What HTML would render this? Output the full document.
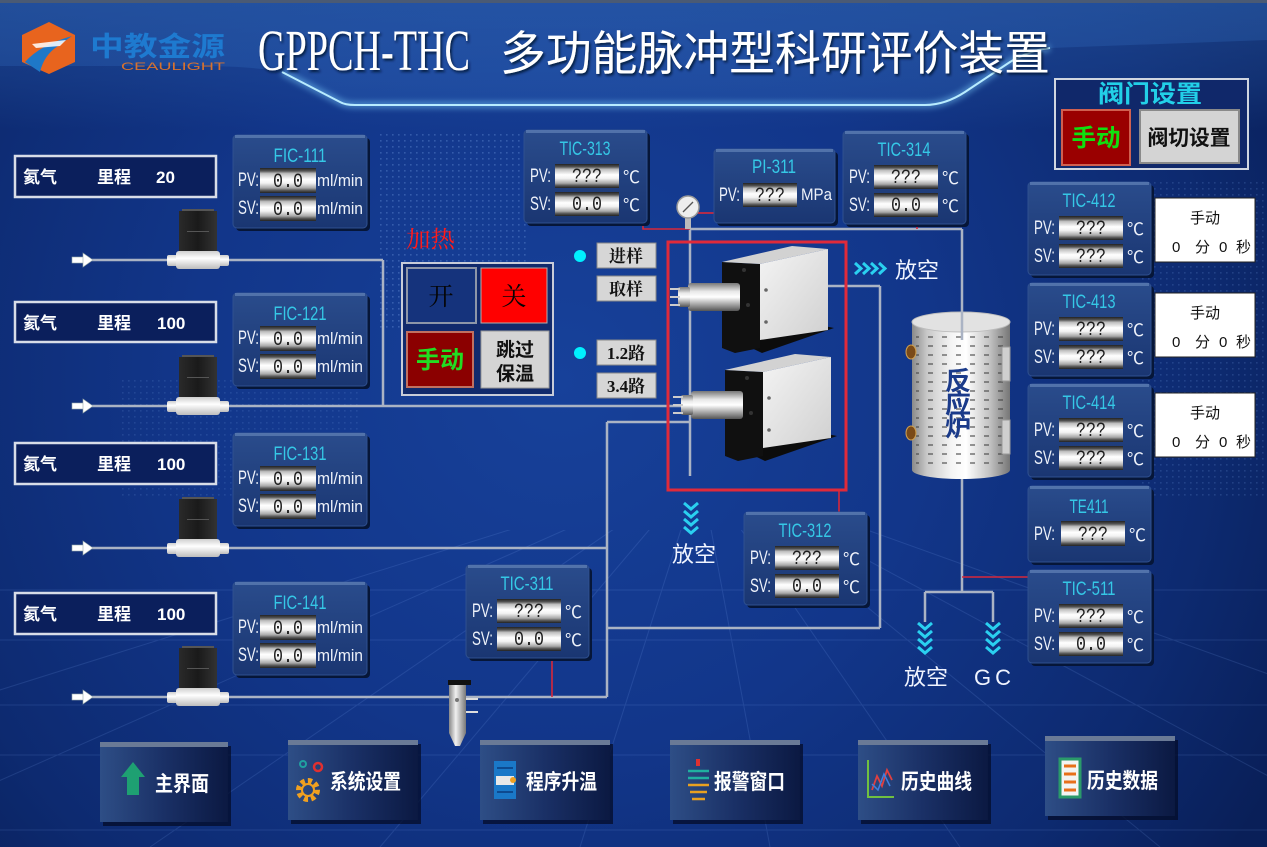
<!DOCTYPE html>
<html><head><meta charset="utf-8">
<style>
html,body{margin:0;padding:0;background:#0d2a70;overflow:hidden;}
svg{display:block;font-family:"Liberation Sans","Noto Sans CJK SC",sans-serif;}
.t{fill:#35c8e6;font-size:19px;text-anchor:middle;}
.l{fill:#eef2fa;font-size:19px;}
.v{fill:#1e1e1e;font-family:"Liberation Mono","Noto Sans CJK SC",monospace;font-size:20px;text-anchor:middle;}
.u{fill:#eef2fa;font-size:17px;}
.c{fill:#eef2fa;font-size:17px;}
.p{fill:none;stroke:#aab3c4;stroke-width:2.5;}
.r{fill:none;stroke:#d8283a;stroke-width:1.6;}
.lb{fill:#ffffff;font-size:17px;font-weight:bold;}
.sb{fill:#111;font-family:"Liberation Serif","Noto Serif CJK SC",serif;font-size:17px;font-weight:bold;text-anchor:middle;}
.sf{font-family:"Liberation Serif","Noto Serif CJK SC",serif;}
.bt{fill:#ffffff;font-size:21px;font-weight:bold;}
.ib{fill:#111;font-size:15px;}
.ch{fill:none;stroke:#2ad0f0;stroke-width:3;}
</style></head><body>
<svg width="1267" height="847" viewBox="0 0 1267 847" xmlns="http://www.w3.org/2000/svg">
<defs>
<radialGradient id="bgr" cx="560" cy="380" r="820" gradientUnits="userSpaceOnUse">
<stop offset="0" stop-color="#17419a"/>
<stop offset="0.45" stop-color="#12368a"/>
<stop offset="0.8" stop-color="#0d2a70"/>
<stop offset="1" stop-color="#091f58"/>
</radialGradient>
<linearGradient id="hdr" x1="0" y1="0" x2="0" y2="1">
<stop offset="0" stop-color="#3068b8" stop-opacity="0.45"/>
<stop offset="1" stop-color="#3a78d0" stop-opacity="0.3"/>
</linearGradient>
<linearGradient id="hband" x1="0" y1="0" x2="0" y2="1">
<stop offset="0" stop-color="#2a5cab" stop-opacity="0.5"/>
<stop offset="0.6" stop-color="#2a5cab" stop-opacity="0.25"/>
<stop offset="1" stop-color="#2a5cab" stop-opacity="0"/>
</linearGradient>
<linearGradient id="pg" x1="0" y1="0" x2="0" y2="1">
<stop offset="0" stop-color="#2a4c8c"/>
<stop offset="1" stop-color="#1a3672"/>
</linearGradient>
<linearGradient id="vg" x1="0" y1="0" x2="0" y2="1">
<stop offset="0" stop-color="#222"/>
<stop offset="0.12" stop-color="#555"/>
<stop offset="0.22" stop-color="#bdbdbd"/>
<stop offset="0.45" stop-color="#ffffff"/>
<stop offset="0.6" stop-color="#f2f2f2"/>
<stop offset="0.8" stop-color="#a8a8a8"/>
<stop offset="0.9" stop-color="#555"/>
<stop offset="1" stop-color="#222"/>
</linearGradient>
<linearGradient id="btn" x1="0" y1="0" x2="1" y2="0">
<stop offset="0" stop-color="#2e4e86"/>
<stop offset="0.5" stop-color="#1a3066"/>
<stop offset="1" stop-color="#0b1942"/>
</linearGradient>
<linearGradient id="cyl" x1="0" y1="0" x2="1" y2="0">
<stop offset="0" stop-color="#8a8a8a"/>
<stop offset="0.15" stop-color="#c8c8c8"/>
<stop offset="0.4" stop-color="#f4f4f4"/>
<stop offset="0.55" stop-color="#ffffff"/>
<stop offset="0.8" stop-color="#c0c0c0"/>
<stop offset="1" stop-color="#767676"/>
</linearGradient>
<linearGradient id="met" x1="0" y1="0" x2="0" y2="1">
<stop offset="0" stop-color="#777"/>
<stop offset="0.3" stop-color="#e8e8e8"/>
<stop offset="0.5" stop-color="#ffffff"/>
<stop offset="0.75" stop-color="#aaa"/>
<stop offset="1" stop-color="#555"/>
</linearGradient>
<linearGradient id="wf" x1="0" y1="0" x2="0" y2="1">
<stop offset="0" stop-color="#cfcfcf"/>
<stop offset="0.4" stop-color="#ffffff"/>
<stop offset="1" stop-color="#bdbdbd"/>
</linearGradient>
<linearGradient id="blk" x1="0" y1="0" x2="1" y2="0">
<stop offset="0" stop-color="#2a2a2a"/>
<stop offset="0.5" stop-color="#1a1a1a"/>
<stop offset="1" stop-color="#333"/>
</linearGradient>
<linearGradient id="face" x1="0" y1="0" x2="1" y2="1">
<stop offset="0" stop-color="#f4f4f4"/>
<stop offset="1" stop-color="#d0d0d0"/>
</linearGradient>
<linearGradient id="vmet" x1="0" y1="0" x2="1" y2="0">
<stop offset="0" stop-color="#888"/>
<stop offset="0.4" stop-color="#f0f0f0"/>
<stop offset="1" stop-color="#777"/>
</linearGradient>
<pattern id="slots" width="14" height="9" patternUnits="userSpaceOnUse">
<rect x="4" y="3" width="5" height="2" fill="#444" opacity=".55"/>
</pattern>
<pattern id="dots" width="6" height="6" patternUnits="userSpaceOnUse">
<rect x="2" y="2" width="1.6" height="1.6" fill="#6f9ae0" opacity=".35"/>
</pattern>
<clipPath id="floor"><rect x="0" y="530" width="1267" height="317"/></clipPath>
<filter id="glow" x="-10%" y="-50%" width="120%" height="200%">
<feGaussianBlur stdDeviation="3"/>
</filter>
<filter id="tsh" x="-5%" y="-20%" width="110%" height="140%">
<feDropShadow dx="1.5" dy="2" stdDeviation="1.2" flood-color="#061436" flood-opacity="0.9"/>
</filter>
<g id="fm">
<rect x="3" y="-2" width="32" height="3" fill="#555"/>
<rect x="0" y="0" width="38" height="41" fill="url(#blk)"/>
<rect x="8" y="20" width="22" height="1" fill="#555"/>
<rect x="-12" y="44" width="12" height="11" rx="2" fill="url(#wf)"/>
<rect x="38" y="44" width="12" height="11" rx="2" fill="url(#wf)"/>
<rect x="-3" y="40" width="44" height="18" rx="3" fill="url(#wf)"/>
</g>
<g id="arr">
<rect x="0" y="-3" width="12" height="6" fill="#fff" stroke="#9aa" stroke-width=".6"/>
<polygon points="11,-7 21,0 11,7" fill="#fff" stroke="#9aa" stroke-width=".6"/>
</g>
<g id="valve">
<polygon points="735,340 805,322 834,328 762,353" fill="#0c0c0c"/>
<polygon points="722,262 760,264 760,348 735,353 722,348" fill="#101010"/>
<polygon points="722,262 792,246 828,249 760,264" fill="#d2d2d2"/>
<polygon points="760,264 828,249 828,330 760,340" fill="url(#face)"/>
<circle cx="766" cy="290" r="1.8" fill="#666"/>
<circle cx="766" cy="322" r="1.8" fill="#666"/>
<circle cx="744" cy="270" r="2" fill="#333"/>
<circle cx="748" cy="305" r="2" fill="#333"/>
<rect x="688" y="283" width="52" height="28" rx="3" fill="url(#met)"/>
<rect x="678" y="287" width="12" height="20" rx="2" fill="url(#met)"/>
<line x1="670" y1="289" x2="680" y2="289" stroke="#ccc" stroke-width="2"/>
<line x1="670" y1="297" x2="680" y2="297" stroke="#ccc" stroke-width="2"/>
<line x1="670" y1="305" x2="680" y2="305" stroke="#ccc" stroke-width="2"/>
</g>
</defs>

<!-- background -->
<rect width="1267" height="847" fill="url(#bgr)"/>
<rect x="0" y="0" width="1267" height="130" fill="url(#hband)"/>
<path d="M0 0 H1267 V40 L1050 48 Q1030 50 1010 62 L965 92 Q945 105 925 105 L355 105 Q345 105 340 102 L282 72 Q250 66 200 66 L0 66 Z" fill="url(#hdr)" opacity=".7"/>
<rect x="380" y="130" width="150" height="200" fill="url(#dots)"/>
<rect x="1140" y="180" width="127" height="320" fill="url(#dots)" opacity=".6"/>
<rect x="120" y="380" width="240" height="120" fill="url(#dots)" opacity=".5"/>
<rect x="0" y="0" width="1267" height="3" fill="#4a5a74"/>
<!-- header glow line -->
<path d="M282 72 L340 102 Q345 105 355 105 L925 105 Q945 105 965 92 L1010 62 Q1030 50 1050 48" fill="none" stroke="#7fd0ff" stroke-width="7" opacity=".45" filter="url(#glow)"/>
<path d="M282 72 L340 102 Q345 105 355 105 L925 105 Q945 105 965 92 L1010 62 Q1030 50 1050 48" fill="none" stroke="#b8ecff" stroke-width="2"/>

<!-- floor grid -->
<g stroke="#8ab4ff" stroke-width="1" opacity=".14" clip-path="url(#floor)">
<line x1="700" y1="470" x2="-500" y2="847"/>
<line x1="700" y1="470" x2="-150" y2="847"/>
<line x1="700" y1="470" x2="150" y2="847"/>
<line x1="700" y1="470" x2="380" y2="847"/>
<line x1="700" y1="470" x2="580" y2="847"/>
<line x1="700" y1="470" x2="770" y2="847"/>
<line x1="700" y1="470" x2="960" y2="847"/>
<line x1="700" y1="470" x2="1160" y2="847"/>
<line x1="700" y1="470" x2="1400" y2="847"/>
<line x1="700" y1="470" x2="1750" y2="847"/>
<line x1="0" y1="590" x2="1267" y2="590"/>
<line x1="0" y1="640" x2="1267" y2="640"/>
<line x1="0" y1="705" x2="1267" y2="705"/>
<line x1="0" y1="755" x2="1267" y2="755"/>
<line x1="0" y1="830" x2="1267" y2="830"/>
</g>

<!-- logo -->
<polygon points="49,22 75,35 75,62 49,74 22,62 22,35" fill="#e8641e"/>
<path d="M25 62 Q40 45 72 36 L58 46 Q44 55 40 72 Z" fill="#1e78c8"/>
<path d="M32 44 L66 40 L60 46 L36 48 Z" fill="#ffffff" opacity=".85"/>
<text x="90" y="56" font-size="27" font-weight="bold" fill="#1e7ad0" textLength="135" lengthAdjust="spacingAndGlyphs">中教金源</text>
<text x="121" y="70" font-size="11" fill="#d8722e" textLength="104" lengthAdjust="spacingAndGlyphs">CEAULIGHT</text>

<!-- title -->
<g filter="url(#tsh)">
<text x="258" y="70" class="sf" font-size="58" fill="#ffffff" textLength="212" lengthAdjust="spacingAndGlyphs">GPPCH-THC</text>
<text x="500" y="70" font-size="47" fill="#ffffff" textLength="550" lengthAdjust="spacingAndGlyphs">多功能脉冲型科研评价装置</text>
</g>

<!-- pipes -->
<g class="p">
<line x1="92" y1="260" x2="167" y2="260"/>
<line x1="228" y1="260" x2="383" y2="260"/>
<line x1="383" y1="260" x2="383" y2="406"/>
<line x1="92" y1="406" x2="167" y2="406"/>
<line x1="228" y1="406" x2="690" y2="406"/>
<line x1="92" y1="548" x2="167" y2="548"/>
<line x1="228" y1="548" x2="607" y2="548"/>
<line x1="92" y1="697" x2="167" y2="697"/>
<line x1="228" y1="697" x2="607" y2="697"/>
<line x1="607" y1="422" x2="607" y2="697"/>
<line x1="607" y1="422" x2="690" y2="422"/>
<line x1="690" y1="229" x2="690" y2="476"/>
<line x1="690" y1="229" x2="962" y2="229"/>
<line x1="828" y1="286" x2="880" y2="286"/>
<line x1="880" y1="286" x2="880" y2="628"/>
<line x1="607" y1="628" x2="880" y2="628"/>
<line x1="962" y1="470" x2="962" y2="592"/>
<line x1="925" y1="592" x2="993" y2="592"/>
<line x1="925" y1="592" x2="925" y2="622"/>
<line x1="993" y1="592" x2="993" y2="622"/>
</g>

<!-- red signal lines -->
<g class="r">
<polyline points="643,223 643,229 690,229"/>
<line x1="698" y1="213" x2="714" y2="213"/>
<line x1="917" y1="224" x2="917" y2="229"/>
<line x1="839" y1="490" x2="839" y2="512"/>
<line x1="552" y1="660" x2="552" y2="697"/>
<line x1="962" y1="577" x2="1028" y2="577"/>
</g>

<!-- left label boxes -->
<g>
<rect x="15" y="156" width="201" height="41" fill="#0b1f5c" stroke="#d8dde8" stroke-width="2.5"/>
<text x="23" y="183" class="lb">氦气</text><text x="97" y="183" class="lb">里程</text><text x="156" y="183" class="lb">20</text>
<rect x="15" y="302" width="201" height="40" fill="#0b1f5c" stroke="#d8dde8" stroke-width="2.5"/>
<text x="23" y="329" class="lb">氦气</text><text x="97" y="329" class="lb">里程</text><text x="157" y="329" class="lb">100</text>
<rect x="15" y="443" width="201" height="41" fill="#0b1f5c" stroke="#d8dde8" stroke-width="2.5"/>
<text x="23" y="470" class="lb">氦气</text><text x="97" y="470" class="lb">里程</text><text x="157" y="470" class="lb">100</text>
<rect x="15" y="593" width="201" height="41" fill="#0b1f5c" stroke="#d8dde8" stroke-width="2.5"/>
<text x="23" y="620" class="lb">氦气</text><text x="97" y="620" class="lb">里程</text><text x="157" y="620" class="lb">100</text>
</g>

<!-- flow meters & arrows -->
<use href="#fm" x="179" y="211"/>
<use href="#fm" x="179" y="357"/>
<use href="#fm" x="179" y="499"/>
<use href="#fm" x="179" y="648"/>
<use href="#arr" x="72" y="260"/>
<use href="#arr" x="72" y="406"/>
<use href="#arr" x="72" y="548"/>
<use href="#arr" x="72" y="697"/>

<!-- FIC panels -->
<g>
<rect x="236" y="138" width="134" height="93" rx="4" fill="#061638"/>
<rect x="233" y="135" width="134" height="93" rx="4" fill="url(#pg)" stroke="#2f5090"/>
<rect x="235" y="135" width="130" height="3" fill="#6d8cc0" opacity=".6"/>
<text x="300" y="162" class="t" textLength="53" lengthAdjust="spacingAndGlyphs">FIC-111</text>
<text x="238" y="186" class="l" textLength="21" lengthAdjust="spacingAndGlyphs">PV:</text>
<rect x="260" y="168" width="56" height="25" fill="url(#vg)"/>
<text x="288" y="187" class="v" textLength="30" lengthAdjust="spacingAndGlyphs">0.0</text>
<text x="317" y="186" class="u" textLength="46" lengthAdjust="spacingAndGlyphs">ml/min</text>
<text x="238" y="214" class="l" textLength="21" lengthAdjust="spacingAndGlyphs">SV:</text>
<rect x="260" y="196" width="56" height="25" fill="url(#vg)"/>
<text x="288" y="215" class="v" textLength="30" lengthAdjust="spacingAndGlyphs">0.0</text>
<text x="317" y="214" class="u" textLength="46" lengthAdjust="spacingAndGlyphs">ml/min</text>
</g>
<g>
<rect x="236" y="296" width="134" height="93" rx="4" fill="#061638"/>
<rect x="233" y="293" width="134" height="93" rx="4" fill="url(#pg)" stroke="#2f5090"/>
<rect x="235" y="293" width="130" height="3" fill="#6d8cc0" opacity=".6"/>
<text x="300" y="320" class="t" textLength="53" lengthAdjust="spacingAndGlyphs">FIC-121</text>
<text x="238" y="344" class="l" textLength="21" lengthAdjust="spacingAndGlyphs">PV:</text>
<rect x="260" y="326" width="56" height="25" fill="url(#vg)"/>
<text x="288" y="345" class="v" textLength="30" lengthAdjust="spacingAndGlyphs">0.0</text>
<text x="317" y="344" class="u" textLength="46" lengthAdjust="spacingAndGlyphs">ml/min</text>
<text x="238" y="372" class="l" textLength="21" lengthAdjust="spacingAndGlyphs">SV:</text>
<rect x="260" y="354" width="56" height="25" fill="url(#vg)"/>
<text x="288" y="373" class="v" textLength="30" lengthAdjust="spacingAndGlyphs">0.0</text>
<text x="317" y="372" class="u" textLength="46" lengthAdjust="spacingAndGlyphs">ml/min</text>
</g>
<g>
<rect x="236" y="436" width="134" height="93" rx="4" fill="#061638"/>
<rect x="233" y="433" width="134" height="93" rx="4" fill="url(#pg)" stroke="#2f5090"/>
<rect x="235" y="433" width="130" height="3" fill="#6d8cc0" opacity=".6"/>
<text x="300" y="460" class="t" textLength="53" lengthAdjust="spacingAndGlyphs">FIC-131</text>
<text x="238" y="484" class="l" textLength="21" lengthAdjust="spacingAndGlyphs">PV:</text>
<rect x="260" y="466" width="56" height="25" fill="url(#vg)"/>
<text x="288" y="485" class="v" textLength="30" lengthAdjust="spacingAndGlyphs">0.0</text>
<text x="317" y="484" class="u" textLength="46" lengthAdjust="spacingAndGlyphs">ml/min</text>
<text x="238" y="512" class="l" textLength="21" lengthAdjust="spacingAndGlyphs">SV:</text>
<rect x="260" y="494" width="56" height="25" fill="url(#vg)"/>
<text x="288" y="513" class="v" textLength="30" lengthAdjust="spacingAndGlyphs">0.0</text>
<text x="317" y="512" class="u" textLength="46" lengthAdjust="spacingAndGlyphs">ml/min</text>
</g>
<g>
<rect x="236" y="585" width="134" height="93" rx="4" fill="#061638"/>
<rect x="233" y="582" width="134" height="93" rx="4" fill="url(#pg)" stroke="#2f5090"/>
<rect x="235" y="582" width="130" height="3" fill="#6d8cc0" opacity=".6"/>
<text x="300" y="609" class="t" textLength="53" lengthAdjust="spacingAndGlyphs">FIC-141</text>
<text x="238" y="633" class="l" textLength="21" lengthAdjust="spacingAndGlyphs">PV:</text>
<rect x="260" y="615" width="56" height="25" fill="url(#vg)"/>
<text x="288" y="634" class="v" textLength="30" lengthAdjust="spacingAndGlyphs">0.0</text>
<text x="317" y="633" class="u" textLength="46" lengthAdjust="spacingAndGlyphs">ml/min</text>
<text x="238" y="661" class="l" textLength="21" lengthAdjust="spacingAndGlyphs">SV:</text>
<rect x="260" y="643" width="56" height="25" fill="url(#vg)"/>
<text x="288" y="662" class="v" textLength="30" lengthAdjust="spacingAndGlyphs">0.0</text>
<text x="317" y="661" class="u" textLength="46" lengthAdjust="spacingAndGlyphs">ml/min</text>
</g>

<!-- TIC-313 -->
<g>
<rect x="527" y="133" width="123" height="93" rx="4" fill="#061638"/>
<rect x="524" y="130" width="123" height="93" rx="4" fill="url(#pg)" stroke="#2f5090"/>
<rect x="526" y="130" width="119" height="3" fill="#6d8cc0" opacity=".6"/>
<text x="585" y="155" class="t" textLength="51" lengthAdjust="spacingAndGlyphs">TIC-313</text>
<text x="530" y="182" class="l" textLength="21" lengthAdjust="spacingAndGlyphs">PV:</text>
<rect x="555" y="164" width="64" height="24" fill="url(#vg)"/>
<text x="587" y="182" class="v" textLength="30" lengthAdjust="spacingAndGlyphs">???</text>
<text x="623" y="183" class="c">℃</text>
<text x="530" y="210" class="l" textLength="21" lengthAdjust="spacingAndGlyphs">SV:</text>
<rect x="555" y="192" width="64" height="24" fill="url(#vg)"/>
<text x="587" y="210" class="v" textLength="30" lengthAdjust="spacingAndGlyphs">0.0</text>
<text x="623" y="211" class="c">℃</text>
</g>
<!-- PI-311 -->
<g>
<rect x="717" y="152" width="121" height="74" rx="4" fill="#061638"/>
<rect x="714" y="149" width="121" height="74" rx="4" fill="url(#pg)" stroke="#2f5090"/>
<rect x="716" y="149" width="117" height="3" fill="#6d8cc0" opacity=".6"/>
<text x="774" y="173" class="t" textLength="44" lengthAdjust="spacingAndGlyphs">PI-311</text>
<text x="719" y="201" class="l" textLength="21" lengthAdjust="spacingAndGlyphs">PV:</text>
<rect x="743" y="183" width="54" height="24" fill="url(#vg)"/>
<text x="770" y="201" class="v" textLength="30" lengthAdjust="spacingAndGlyphs">???</text>
<text x="801" y="200" class="u" textLength="31" lengthAdjust="spacingAndGlyphs">MPa</text>
</g>
<!-- TIC-314 -->
<g>
<rect x="846" y="134" width="123" height="93" rx="4" fill="#061638"/>
<rect x="843" y="131" width="123" height="93" rx="4" fill="url(#pg)" stroke="#2f5090"/>
<rect x="845" y="131" width="119" height="3" fill="#6d8cc0" opacity=".6"/>
<text x="904" y="156" class="t" textLength="53" lengthAdjust="spacingAndGlyphs">TIC-314</text>
<text x="849" y="183" class="l" textLength="21" lengthAdjust="spacingAndGlyphs">PV:</text>
<rect x="874" y="165" width="64" height="24" fill="url(#vg)"/>
<text x="906" y="183" class="v" textLength="30" lengthAdjust="spacingAndGlyphs">???</text>
<text x="942" y="184" class="c">℃</text>
<text x="849" y="211" class="l" textLength="21" lengthAdjust="spacingAndGlyphs">SV:</text>
<rect x="874" y="193" width="64" height="24" fill="url(#vg)"/>
<text x="906" y="211" class="v" textLength="30" lengthAdjust="spacingAndGlyphs">0.0</text>
<text x="942" y="212" class="c">℃</text>
</g>

<!-- right TIC panels -->
<g>
<rect x="1031" y="185" width="123" height="93" rx="4" fill="#061638"/>
<rect x="1028" y="182" width="123" height="93" rx="4" fill="url(#pg)" stroke="#2f5090"/>
<rect x="1030" y="182" width="119" height="3" fill="#6d8cc0" opacity=".6"/>
<text x="1089" y="207" class="t" textLength="53" lengthAdjust="spacingAndGlyphs">TIC-412</text>
<text x="1034" y="234" class="l" textLength="21" lengthAdjust="spacingAndGlyphs">PV:</text>
<rect x="1059" y="216" width="64" height="24" fill="url(#vg)"/>
<text x="1091" y="234" class="v" textLength="30" lengthAdjust="spacingAndGlyphs">???</text>
<text x="1127" y="235" class="c">℃</text>
<text x="1034" y="262" class="l" textLength="21" lengthAdjust="spacingAndGlyphs">SV:</text>
<rect x="1059" y="244" width="64" height="24" fill="url(#vg)"/>
<text x="1091" y="262" class="v" textLength="30" lengthAdjust="spacingAndGlyphs">???</text>
<text x="1127" y="263" class="c">℃</text>
</g>
<g>
<rect x="1031" y="286" width="123" height="93" rx="4" fill="#061638"/>
<rect x="1028" y="283" width="123" height="93" rx="4" fill="url(#pg)" stroke="#2f5090"/>
<rect x="1030" y="283" width="119" height="3" fill="#6d8cc0" opacity=".6"/>
<text x="1089" y="308" class="t" textLength="53" lengthAdjust="spacingAndGlyphs">TIC-413</text>
<text x="1034" y="335" class="l" textLength="21" lengthAdjust="spacingAndGlyphs">PV:</text>
<rect x="1059" y="317" width="64" height="24" fill="url(#vg)"/>
<text x="1091" y="335" class="v" textLength="30" lengthAdjust="spacingAndGlyphs">???</text>
<text x="1127" y="336" class="c">℃</text>
<text x="1034" y="363" class="l" textLength="21" lengthAdjust="spacingAndGlyphs">SV:</text>
<rect x="1059" y="345" width="64" height="24" fill="url(#vg)"/>
<text x="1091" y="363" class="v" textLength="30" lengthAdjust="spacingAndGlyphs">???</text>
<text x="1127" y="364" class="c">℃</text>
</g>
<g>
<rect x="1031" y="387" width="123" height="93" rx="4" fill="#061638"/>
<rect x="1028" y="384" width="123" height="93" rx="4" fill="url(#pg)" stroke="#2f5090"/>
<rect x="1030" y="384" width="119" height="3" fill="#6d8cc0" opacity=".6"/>
<text x="1089" y="409" class="t" textLength="53" lengthAdjust="spacingAndGlyphs">TIC-414</text>
<text x="1034" y="436" class="l" textLength="21" lengthAdjust="spacingAndGlyphs">PV:</text>
<rect x="1059" y="418" width="64" height="24" fill="url(#vg)"/>
<text x="1091" y="436" class="v" textLength="30" lengthAdjust="spacingAndGlyphs">???</text>
<text x="1127" y="437" class="c">℃</text>
<text x="1034" y="464" class="l" textLength="21" lengthAdjust="spacingAndGlyphs">SV:</text>
<rect x="1059" y="446" width="64" height="24" fill="url(#vg)"/>
<text x="1091" y="464" class="v" textLength="30" lengthAdjust="spacingAndGlyphs">???</text>
<text x="1127" y="465" class="c">℃</text>
</g>
<g>
<rect x="1031" y="489" width="123" height="76" rx="4" fill="#061638"/>
<rect x="1028" y="486" width="123" height="76" rx="4" fill="url(#pg)" stroke="#2f5090"/>
<rect x="1030" y="486" width="119" height="3" fill="#6d8cc0" opacity=".6"/>
<text x="1089" y="513" class="t" textLength="39" lengthAdjust="spacingAndGlyphs">TE411</text>
<text x="1034" y="540" class="l" textLength="21" lengthAdjust="spacingAndGlyphs">PV:</text>
<rect x="1061" y="521" width="64" height="25" fill="url(#vg)"/>
<text x="1093" y="540" class="v" textLength="30" lengthAdjust="spacingAndGlyphs">???</text>
<text x="1129" y="541" class="c">℃</text>
</g>
<g>
<rect x="1031" y="573" width="123" height="93" rx="4" fill="#061638"/>
<rect x="1028" y="570" width="123" height="93" rx="4" fill="url(#pg)" stroke="#2f5090"/>
<rect x="1030" y="570" width="119" height="3" fill="#6d8cc0" opacity=".6"/>
<text x="1089" y="595" class="t" textLength="53" lengthAdjust="spacingAndGlyphs">TIC-511</text>
<text x="1034" y="622" class="l" textLength="21" lengthAdjust="spacingAndGlyphs">PV:</text>
<rect x="1059" y="604" width="64" height="24" fill="url(#vg)"/>
<text x="1091" y="622" class="v" textLength="30" lengthAdjust="spacingAndGlyphs">???</text>
<text x="1127" y="623" class="c">℃</text>
<text x="1034" y="650" class="l" textLength="21" lengthAdjust="spacingAndGlyphs">SV:</text>
<rect x="1059" y="632" width="64" height="24" fill="url(#vg)"/>
<text x="1091" y="650" class="v" textLength="30" lengthAdjust="spacingAndGlyphs">0.0</text>
<text x="1127" y="651" class="c">℃</text>
</g>
<!-- TIC-312 -->
<g>
<rect x="747" y="515" width="123" height="93" rx="4" fill="#061638"/>
<rect x="744" y="512" width="123" height="93" rx="4" fill="url(#pg)" stroke="#2f5090"/>
<rect x="746" y="512" width="119" height="3" fill="#6d8cc0" opacity=".6"/>
<text x="805" y="537" class="t" textLength="53" lengthAdjust="spacingAndGlyphs">TIC-312</text>
<text x="750" y="564" class="l" textLength="21" lengthAdjust="spacingAndGlyphs">PV:</text>
<rect x="775" y="546" width="64" height="24" fill="url(#vg)"/>
<text x="807" y="564" class="v" textLength="30" lengthAdjust="spacingAndGlyphs">???</text>
<text x="843" y="565" class="c">℃</text>
<text x="750" y="592" class="l" textLength="21" lengthAdjust="spacingAndGlyphs">SV:</text>
<rect x="775" y="574" width="64" height="24" fill="url(#vg)"/>
<text x="807" y="592" class="v" textLength="30" lengthAdjust="spacingAndGlyphs">0.0</text>
<text x="843" y="593" class="c">℃</text>
</g>
<!-- TIC-311 -->
<g>
<rect x="469" y="568" width="123" height="93" rx="4" fill="#061638"/>
<rect x="466" y="565" width="123" height="93" rx="4" fill="url(#pg)" stroke="#2f5090"/>
<rect x="468" y="565" width="119" height="3" fill="#6d8cc0" opacity=".6"/>
<text x="527" y="590" class="t" textLength="53" lengthAdjust="spacingAndGlyphs">TIC-311</text>
<text x="472" y="617" class="l" textLength="21" lengthAdjust="spacingAndGlyphs">PV:</text>
<rect x="497" y="599" width="64" height="24" fill="url(#vg)"/>
<text x="529" y="617" class="v" textLength="30" lengthAdjust="spacingAndGlyphs">???</text>
<text x="565" y="618" class="c">℃</text>
<text x="472" y="645" class="l" textLength="21" lengthAdjust="spacingAndGlyphs">SV:</text>
<rect x="497" y="627" width="64" height="24" fill="url(#vg)"/>
<text x="529" y="645" class="v" textLength="30" lengthAdjust="spacingAndGlyphs">0.0</text>
<text x="565" y="646" class="c">℃</text>
</g>

<!-- info boxes -->
<g>
<rect x="1155" y="198" width="100" height="64" fill="#fff" stroke="#222"/>
<text x="1205" y="223" class="ib" text-anchor="middle">手动</text>
<text x="1172" y="252" class="ib">0</text><text x="1195" y="252" class="ib">分</text><text x="1219" y="252" class="ib">0</text><text x="1236" y="252" class="ib">秒</text>
<rect x="1155" y="293" width="100" height="64" fill="#fff" stroke="#222"/>
<text x="1205" y="318" class="ib" text-anchor="middle">手动</text>
<text x="1172" y="347" class="ib">0</text><text x="1195" y="347" class="ib">分</text><text x="1219" y="347" class="ib">0</text><text x="1236" y="347" class="ib">秒</text>
<rect x="1155" y="393" width="100" height="64" fill="#fff" stroke="#222"/>
<text x="1205" y="418" class="ib" text-anchor="middle">手动</text>
<text x="1172" y="447" class="ib">0</text><text x="1195" y="447" class="ib">分</text><text x="1219" y="447" class="ib">0</text><text x="1236" y="447" class="ib">秒</text>
</g>

<!-- valve settings -->
<g>
<rect x="1055" y="79" width="193" height="90" fill="#10286a" stroke="#d0d6e0" stroke-width="2"/>
<text x="1150" y="102" font-size="24" font-weight="bold" fill="#22d0e8" text-anchor="middle" textLength="104" lengthAdjust="spacingAndGlyphs">阀门设置</text>
<rect x="1062" y="110" width="68" height="55" fill="#9a0000" stroke="#d06050" stroke-width="2"/>
<text x="1096" y="146" font-size="24" font-weight="bold" fill="#10e010" text-anchor="middle" textLength="49" lengthAdjust="spacingAndGlyphs">手动</text>
<rect x="1140" y="110" width="99" height="53" fill="#d4d4d4" stroke="#8a8a8a" stroke-width="2"/>
<text x="1189" y="145" font-size="21" font-weight="bold" fill="#111" text-anchor="middle" textLength="83" lengthAdjust="spacingAndGlyphs">阀切设置</text>
</g>

<!-- heating -->
<text x="406" y="247" class="sf" font-size="23" fill="#ff1a1a" textLength="49" lengthAdjust="spacingAndGlyphs">加热</text>
<rect x="402" y="263" width="151" height="132" fill="#112a6c" stroke="#c8ccd8" stroke-width="2"/>
<rect x="407" y="268" width="69" height="55" fill="#15337c" stroke="#8d96a8" stroke-width="2"/>
<text x="441" y="305" class="sf" font-size="25" fill="#050505" text-anchor="middle">开</text>
<rect x="481" y="268" width="66" height="55" fill="#ff0000" stroke="#b0b0b0"/>
<text x="514" y="305" class="sf" font-size="25" fill="#050505" text-anchor="middle">关</text>
<rect x="407" y="332" width="66" height="55" fill="#8b0000" stroke="#c07060" stroke-width="2"/>
<text x="440" y="368" font-size="24" font-weight="bold" fill="#22dd22" text-anchor="middle" textLength="48" lengthAdjust="spacingAndGlyphs">手动</text>
<rect x="481" y="331" width="68" height="57" fill="#d4d4d4" stroke="#999"/>
<text x="515" y="356" font-size="19" font-weight="bold" fill="#111" text-anchor="middle">跳过</text>
<text x="515" y="380" font-size="19" font-weight="bold" fill="#111" text-anchor="middle">保温</text>

<!-- small buttons -->
<circle cx="580" cy="256" r="6" fill="#00f0ff"/>
<circle cx="580" cy="353" r="6" fill="#00f0ff"/>
<g>
<rect x="597" y="243" width="59" height="25" fill="#d6d6d6" stroke="#888"/>
<text x="626" y="262" class="sb">进样</text>
<rect x="597" y="276" width="59" height="25" fill="#d6d6d6" stroke="#888"/>
<text x="626" y="295" class="sb">取样</text>
<rect x="597" y="340" width="59" height="25" fill="#d6d6d6" stroke="#888"/>
<text x="626" y="359" class="sb">1.2路</text>
<rect x="597" y="373" width="59" height="25" fill="#d6d6d6" stroke="#888"/>
<text x="626" y="392" class="sb">3.4路</text>
</g>

<!-- valves -->
<use href="#valve"/>
<use href="#valve" transform="translate(3,108)"/>
<rect x="668" y="242" width="178" height="248" fill="none" stroke="#e02a3a" stroke-width="3"/>

<!-- gauge -->
<rect x="685" y="217" width="6" height="12" fill="#bbb"/>
<circle cx="688" cy="207" r="11" fill="#eeeeee" stroke="#999" stroke-width="1.5"/>
<line x1="683" y1="212" x2="693" y2="202" stroke="#555" stroke-width="1.3"/>

<!-- vent chevrons -->
<g class="ch">
<polyline points="855,263 861,268.5 855,274"/>
<polyline points="863,263 869,268.5 863,274"/>
<polyline points="871,263 877,268.5 871,274"/>
<polyline points="879,263 885,268.5 879,274"/>
<polyline points="684,503 691,509 698,503"/>
<polyline points="684,511 691,517 698,511"/>
<polyline points="684,519 691,525 698,519"/>
<polyline points="684,527 691,533 698,527"/>
<polyline points="918,623 925,629 932,623"/>
<polyline points="918,631 925,637 932,631"/>
<polyline points="918,639 925,645 932,639"/>
<polyline points="918,647 925,653 932,647"/>
<polyline points="986,623 993,629 1000,623"/>
<polyline points="986,631 993,637 1000,631"/>
<polyline points="986,639 993,645 1000,639"/>
<polyline points="986,647 993,653 1000,647"/>
</g>
<text x="895" y="278" font-size="22" fill="#f0f4ff">放空</text>
<text x="672" y="562" font-size="22" fill="#f0f4ff">放空</text>
<text x="904" y="685" font-size="22" fill="#f0f4ff">放空</text>
<text x="974" y="685" font-size="22" fill="#f0f4ff" letter-spacing="4">GC</text>

<!-- reactor -->
<g>
<rect x="912" y="322" width="98" height="148" fill="url(#cyl)"/>
<ellipse cx="961" cy="470" rx="49" ry="9" fill="url(#cyl)"/>
<rect x="916" y="333" width="90" height="135" fill="url(#slots)"/>
<ellipse cx="961" cy="322" rx="49" ry="10" fill="#e2e2e2" stroke="#bdbdbd"/>
<rect x="1002" y="347" width="8" height="34" fill="#cfcfcf" stroke="#999"/>
<rect x="1002" y="420" width="8" height="34" fill="#cfcfcf" stroke="#999"/>
<ellipse cx="911" cy="352" rx="5" ry="7" fill="#7a4a18" stroke="#d0a050"/>
<ellipse cx="911" cy="433" rx="5" ry="7" fill="#7a4a18" stroke="#d0a050"/>
<text x="958" y="390" font-size="26" font-weight="bold" fill="#1a3a8a" text-anchor="middle">反</text>
<text x="958" y="413" font-size="26" font-weight="bold" fill="#1a3a8a" text-anchor="middle">应</text>
<text x="958" y="436" font-size="26" font-weight="bold" fill="#1a3a8a" text-anchor="middle">炉</text>
</g>
<line x1="962" y1="229" x2="962" y2="340" class="p"/>

<!-- needle valve -->
<g>
<rect x="448" y="680" width="23" height="5" fill="#111"/>
<rect x="449" y="685" width="17" height="48" fill="url(#vmet)"/>
<polygon points="449,733 466,733 460,746 455,746" fill="url(#vmet)"/>
<line x1="466" y1="699" x2="478" y2="699" stroke="#ddd" stroke-width="2"/>
<line x1="466" y1="712" x2="478" y2="712" stroke="#ddd" stroke-width="2"/>
<circle cx="457" cy="700" r="2" fill="#777"/>
</g>

<!-- bottom buttons -->
<g>
<rect x="103" y="746" width="128" height="80" fill="#040c28" opacity=".75"/>
<rect x="100" y="742" width="128" height="80" fill="url(#btn)"/>
<rect x="100" y="742" width="128" height="5" fill="#6a7a96"/>
<polygon points="133,762 121,777 127,777 127,795 139,795 139,777 145,777" fill="#1ea072"/>
<text x="155" y="791" class="bt" textLength="54" lengthAdjust="spacingAndGlyphs">主界面</text>

<rect x="291" y="744" width="130" height="80" fill="#040c28" opacity=".75"/>
<rect x="288" y="740" width="130" height="80" fill="url(#btn)"/>
<rect x="288" y="740" width="130" height="5" fill="#6a7a96"/>
<circle cx="308" cy="790" r="9" fill="none" stroke="#f0a020" stroke-width="6" stroke-dasharray="4 3"/>
<circle cx="308" cy="790" r="6" fill="none" stroke="#f0a020" stroke-width="2"/>
<circle cx="318" cy="767" r="4" fill="none" stroke="#e03030" stroke-width="2.5"/>
<circle cx="303" cy="764" r="3" fill="none" stroke="#20a0a0" stroke-width="2"/>
<text x="330" y="789" class="bt" textLength="71" lengthAdjust="spacingAndGlyphs">系统设置</text>

<rect x="483" y="744" width="130" height="80" fill="#040c28" opacity=".75"/>
<rect x="480" y="740" width="130" height="80" fill="url(#btn)"/>
<rect x="480" y="740" width="130" height="5" fill="#6a7a96"/>
<rect x="494" y="761" width="22" height="38" fill="#1a78c8"/>
<line x1="497" y1="768" x2="513" y2="768" stroke="#0d4a90" stroke-width="2"/>
<line x1="497" y1="792" x2="513" y2="792" stroke="#0d4a90" stroke-width="2"/>
<rect x="496" y="776" width="18" height="9" fill="#e8e8e8"/>
<circle cx="513" cy="780" r="3" fill="#f0a020"/>
<text x="526" y="789" class="bt" textLength="71" lengthAdjust="spacingAndGlyphs">程序升温</text>

<rect x="673" y="744" width="130" height="80" fill="#040c28" opacity=".75"/>
<rect x="670" y="740" width="130" height="80" fill="url(#btn)"/>
<rect x="670" y="740" width="130" height="5" fill="#6a7a96"/>
<rect x="696" y="759" width="4" height="7" fill="#e03030"/>
<line x1="688" y1="771" x2="709" y2="771" stroke="#20b0a0" stroke-width="2.5"/>
<line x1="688" y1="778" x2="709" y2="778" stroke="#20b0a0" stroke-width="2.5"/>
<line x1="688" y1="785" x2="709" y2="785" stroke="#e8a020" stroke-width="2.5"/>
<line x1="690" y1="792" x2="707" y2="792" stroke="#e8a020" stroke-width="2.5"/>
<line x1="692" y1="799" x2="705" y2="799" stroke="#e8a020" stroke-width="2.5"/>
<text x="714" y="789" class="bt" textLength="71" lengthAdjust="spacingAndGlyphs">报警窗口</text>

<rect x="861" y="744" width="130" height="80" fill="#040c28" opacity=".75"/>
<rect x="858" y="740" width="130" height="80" fill="url(#btn)"/>
<rect x="858" y="740" width="130" height="5" fill="#6a7a96"/>
<polyline points="868,760 868,797 894,797" fill="none" stroke="#70c040" stroke-width="2"/>
<polyline points="872,790 877,776 882,786 887,770 892,780" fill="none" stroke="#e04040" stroke-width="1.8"/>
<polyline points="872,784 878,790 884,774 890,786" fill="none" stroke="#4080e0" stroke-width="1.5"/>
<text x="901" y="789" class="bt" textLength="71" lengthAdjust="spacingAndGlyphs">历史曲线</text>

<rect x="1048" y="740" width="130" height="80" fill="#040c28" opacity=".75"/>
<rect x="1045" y="736" width="130" height="80" fill="url(#btn)"/>
<rect x="1045" y="736" width="130" height="5" fill="#6a7a96"/>
<rect x="1060" y="759" width="20" height="38" fill="#f4f4f4" stroke="#2a9a6a" stroke-width="3"/>
<line x1="1064" y1="766" x2="1076" y2="766" stroke="#e8701a" stroke-width="3"/>
<line x1="1064" y1="774" x2="1076" y2="774" stroke="#e8701a" stroke-width="3"/>
<line x1="1064" y1="782" x2="1076" y2="782" stroke="#e8701a" stroke-width="3"/>
<line x1="1064" y1="790" x2="1076" y2="790" stroke="#e8701a" stroke-width="3"/>
<text x="1087" y="788" class="bt" textLength="71" lengthAdjust="spacingAndGlyphs">历史数据</text>
</g>
</svg>
</body></html>
